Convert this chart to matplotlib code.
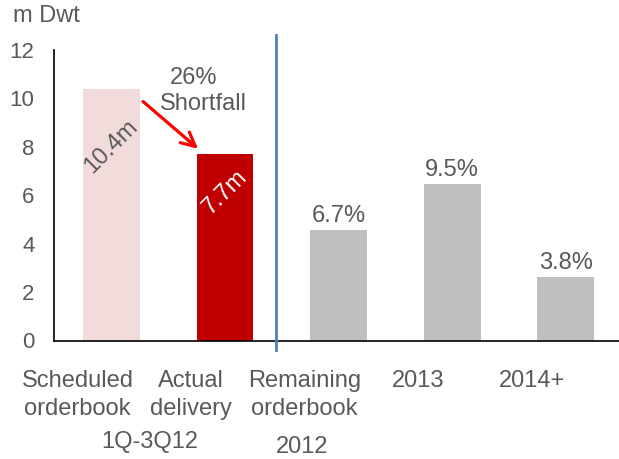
import matplotlib
matplotlib.use("Agg")
import matplotlib.pyplot as plt
import matplotlib.transforms as mtransforms

categories = ["Scheduled\norderbook", "Actual\ndelivery", "Remaining\norderbook", "2013", "2014+"]
values = [10.4, 7.7, 4.57, 6.47, 2.63]
bar_colors = ["#F2DCDB", "#C00000", "#BFBFBF", "#BFBFBF", "#BFBFBF"]
inner_labels = ["10.4m", "7.7m"]
pct_labels = ["6.7%", "9.5%", "3.8%"]
yticks = [0, 2, 4, 6, 8, 10, 12]
group_labels = ["1Q-3Q12", "2012"]

FONT = "Liberation Sans"
TXT = "#595959"

fig = plt.figure(figsize=(6.19, 4.59), dpi=100)
ax = fig.add_axes([54/619, 1 - 340.5/459, 1 - 54/619, (340.5 - 50)/459])

x = list(range(len(categories)))
ax.bar(x, values, width=0.5, color=bar_colors, zorder=2)
ax.set_xlim(-0.507, 4.47)
ax.set_ylim(0, 12)

ax.set_yticks(yticks)
ax.set_yticklabels([str(t) for t in yticks], fontsize=16, color=TXT, fontfamily=FONT)
ax.tick_params(axis="y", length=0, pad=14)
ax.set_xticks(x)
ax.set_xticklabels(categories, fontsize=17, color=TXT, fontfamily=FONT, linespacing=1.35)
ax.tick_params(axis="x", length=0, pad=21)
offset = mtransforms.ScaledTranslation(-34/100, 0, fig.dpi_scale_trans)
for lab in ax.get_xticklabels():
    lab.set_transform(lab.get_transform() + offset)

for s in ["top", "right"]:
    ax.spines[s].set_visible(False)
for s in ["left", "bottom"]:
    ax.spines[s].set_color("black")
    ax.spines[s].set_linewidth(1.2)

# rotated labels inside first two bars
ax.text(0, 8.0, inner_labels[0], rotation=45, ha="center", va="center",
        fontsize=17, color=TXT, fontfamily=FONT, zorder=3)
ax.text(1, 6.14, inner_labels[1], rotation=45, ha="center", va="center",
        fontsize=17, color="white", fontfamily=FONT, zorder=3)

# percentage labels above gray bars
for i, lab in zip(x[2:], pct_labels):
    ax.text(i, values[i] + 0.1, lab, ha="center", va="bottom",
            fontsize=17, color=TXT, fontfamily=FONT)

# shortfall arrow and text
ax.annotate("", xy=(0.762, 7.92), xytext=(0.278, 9.87),
            arrowprops=dict(arrowstyle="->", color="#FF0000", lw=2.3,
                            mutation_scale=25, shrinkA=0, shrinkB=0), zorder=4)
ax.text(0.72, 10.85, "26%", ha="center", va="center", fontsize=17, color=TXT, fontfamily=FONT)
ax.text(0.81, 9.75, "Shortfall", ha="center", va="center", fontsize=17, color=TXT, fontfamily=FONT)

# vertical separator
ax.plot([1.45, 1.45], [-0.39, 12.64], color="#4F81BD", lw=2, clip_on=False, zorder=5)

# units label
fig.text(13/619, 1 - 16/459, "m Dwt", ha="left", va="center", fontsize=17, color=TXT, fontfamily=FONT)

# group labels
fig.text(150/619, 1 - 442/459, group_labels[0], ha="center", va="center", fontsize=17, color=TXT, fontfamily=FONT)
fig.text(302/619, 1 - 447/459, group_labels[1], ha="center", va="center", fontsize=17, color=TXT, fontfamily=FONT)

fig.savefig("out.png", dpi=100)
